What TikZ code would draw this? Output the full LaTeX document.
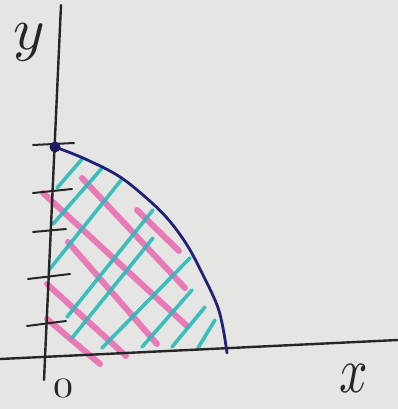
\documentclass[tikz,border=0pt]{standalone}
\begin{document}
\begin{tikzpicture}[x=1pt,y=-1pt,
  axisline/.style={draw=axisc, line width=2.4pt, line cap=round},
  tickline/.style={draw=axisc, line width=2pt, line cap=round},
  cyanline/.style={draw=hcyan, line width=3.6pt, line cap=round, opacity=0.9},
  pinkline/.style={draw=hpink, line width=6pt, line cap=round, opacity=0.85},
  curveline/.style={draw=navy, line width=2.8pt, line cap=round},
  lbl/.style={text=axisc, inner sep=0pt}]
\definecolor{paper}{RGB}{229,229,227}
\definecolor{axisc}{RGB}{38,38,38}
\definecolor{hcyan}{RGB}{40,186,186}
\definecolor{hpink}{RGB}{232,104,176}
\definecolor{navy}{RGB}{32,34,118}
\fill[paper] (0,0) rectangle (398,409);
\useasboundingbox (0,0) rectangle (398,409);

% pink hatching
\draw[pinkline] (82,178) -- (185,288);
\draw[pinkline] (137,210) -- (179,251);
\draw[pinkline] (43,193) -- (187,326);
\draw[pinkline] (68,242) -- (157,344);
\draw[pinkline] (47,284) -- (126,356);
\draw[pinkline] (47,319) -- (100,364);

% cyan hatching
\draw[cyanline] (57,188) -- (83,158);
\draw[cyanline] (53,224) -- (103,167);
\draw[cyanline] (49,270) -- (122,179);
\draw[cyanline] (67,317) -- (153,210);
\draw[cyanline] (72,338) -- (153,238);
\draw[cyanline] (102,348) -- (190,258);
\draw[cyanline] (142,347) -- (192,290);
\draw[cyanline] (172,347) -- (205,307);
\draw[cyanline] (198,348) -- (215,320);

% axes
\coordinate (ytop) at (61,5);
\coordinate (ybot) at (44,380);
\coordinate (xleft) at (0,359);
\coordinate (xright) at (398,340);
\draw[axisline] (ytop) -- (ybot);
\draw[axisline] (xleft) -- (xright);

% ticks
\coordinate (t0a) at (33,145); \coordinate (t0b) at (74,143);
\coordinate (t1a) at (33,193); \coordinate (t1b) at (72,189);
\coordinate (t2a) at (33,232); \coordinate (t2b) at (66,229);
\coordinate (t3a) at (28,279); \coordinate (t3b) at (70,274);
\coordinate (t4a) at (27,326); \coordinate (t4b) at (66,321);
\draw[tickline] (t0a) -- (t0b);
\draw[tickline] (t1a) -- (t1b);
\draw[tickline] (t2a) -- (t2b);
\draw[tickline] (t3a) -- (t3b);
\draw[tickline] (t4a) -- (t4b);

% boundary curve
\coordinate (top) at (55,147);
\coordinate (xint) at (227,353);
\draw[curveline] plot[smooth, tension=0.6] coordinates
  {(55,147) (83,158) (117,175) (143,195) (167,218) (187,245) (203,275) (217,305) (223,328) (227,353)};
\fill[navy!80!black] (top) circle (5.5);

% labels
\node[lbl, scale=6] (ylab) at (29,42) {$y$};
\node[lbl, xscale=5, yscale=6.5] (xlab) at (354,379) {$x$};
\node[lbl, xscale=4, yscale=2.8] (olab) at (63,388) {0};
\end{tikzpicture}
\end{document}
